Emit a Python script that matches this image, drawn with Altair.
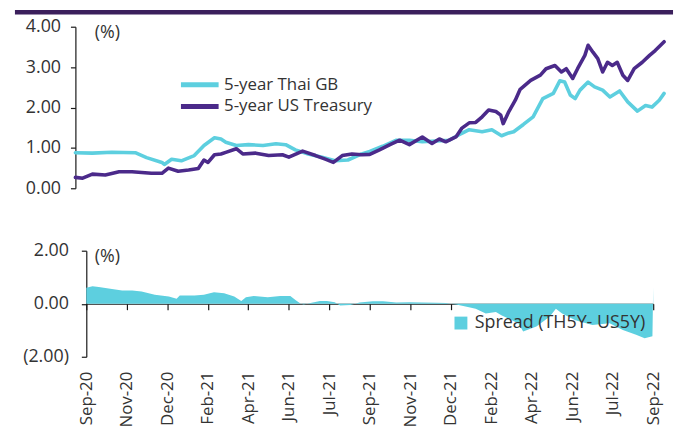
import altair as alt
import pandas as pd

CYAN = "#5DCFDF"
PURPLE = "#4B2A8A"
BAR = "#3B1F5C"
TEXT = "#333333"
AXIS = "#1a1a1a"
FONT = "Open Sans"

series_names = ["5-year Thai GB", "5-year US Treasury"]
spread_name = "Spread (TH5Y- US5Y)"

th_dates = ["2020-09-15", "2020-10-06", "2020-10-30", "2020-11-28", "2020-12-12", "2020-12-31",
            "2021-01-03", "2021-01-12", "2021-01-24", "2021-02-09", "2021-02-21", "2021-03-06",
            "2021-03-14", "2021-03-20", "2021-04-02", "2021-04-17", "2021-05-05", "2021-05-21",
            "2021-06-02", "2021-06-14", "2021-06-30", "2021-07-17", "2021-08-02", "2021-08-18",
            "2021-09-04", "2021-09-14", "2021-09-30", "2021-10-17", "2021-11-02", "2021-11-18",
            "2021-12-05", "2021-12-21", "2022-01-02", "2022-01-15", "2022-01-31", "2022-02-12",
            "2022-02-24", "2022-03-05", "2022-03-11", "2022-03-23", "2022-04-04", "2022-04-16",
            "2022-04-29", "2022-05-07", "2022-05-13", "2022-05-20", "2022-05-26", "2022-06-01",
            "2022-06-11", "2022-06-19", "2022-06-29", "2022-07-08", "2022-07-20", "2022-07-30",
            "2022-08-11", "2022-08-21", "2022-08-29", "2022-09-07", "2022-09-13"]
th_values = [0.88, 0.87, 0.89, 0.88, 0.76, 0.64,
             0.59, 0.72, 0.68, 0.81, 1.06, 1.25,
             1.22, 1.14, 1.06, 1.08, 1.06, 1.10,
             1.08, 0.95, 0.85, 0.77, 0.68, 0.70,
             0.85, 0.91, 1.04, 1.19, 1.19, 1.15,
             1.17, 1.19, 1.32, 1.45, 1.40, 1.45,
             1.30, 1.37, 1.40, 1.58, 1.77, 2.22,
             2.35, 2.66, 2.63, 2.31, 2.22, 2.43,
             2.63, 2.51, 2.43, 2.26, 2.41, 2.14,
             1.91, 2.05, 2.01, 2.18, 2.35]

us_dates = ["2020-09-15", "2020-09-24", "2020-10-06", "2020-10-22", "2020-11-08", "2020-11-24",
            "2020-12-06", "2020-12-18", "2020-12-31", "2021-01-08", "2021-01-20", "2021-02-02",
            "2021-02-14", "2021-02-21", "2021-02-26", "2021-03-06", "2021-03-14", "2021-03-20",
            "2021-04-02", "2021-04-10", "2021-04-26", "2021-05-12", "2021-05-29", "2021-06-06",
            "2021-06-23", "2021-07-09", "2021-07-21", "2021-07-31", "2021-08-11", "2021-08-23",
            "2021-09-04", "2021-09-14", "2021-09-26", "2021-10-09", "2021-10-21", "2021-11-02",
            "2021-11-18", "2021-11-30", "2021-12-09", "2021-12-17", "2021-12-30", "2022-01-06",
            "2022-01-15", "2022-01-23", "2022-01-31", "2022-02-08", "2022-02-17", "2022-02-23",
            "2022-02-26", "2022-03-05", "2022-03-13", "2022-03-19", "2022-04-01", "2022-04-13",
            "2022-04-20", "2022-05-01", "2022-05-09", "2022-05-15", "2022-05-23", "2022-05-29",
            "2022-06-07", "2022-06-11", "2022-06-17", "2022-06-23", "2022-06-29", "2022-07-05",
            "2022-07-11", "2022-07-17", "2022-07-24", "2022-07-30", "2022-08-07", "2022-08-17",
            "2022-08-26", "2022-09-02", "2022-09-08", "2022-09-13"]
us_values = [0.27, 0.25, 0.35, 0.33, 0.41, 0.41,
             0.39, 0.37, 0.37, 0.50, 0.42, 0.45,
             0.49, 0.70, 0.64, 0.83, 0.85, 0.89,
             0.98, 0.85, 0.87, 0.81, 0.83, 0.77,
             0.92, 0.81, 0.72, 0.64, 0.81, 0.85,
             0.83, 0.84, 0.95, 1.08, 1.19, 1.08,
             1.27, 1.11, 1.22, 1.15, 1.28, 1.49,
             1.62, 1.63, 1.77, 1.94, 1.90, 1.81,
             1.60, 1.90, 2.18, 2.45, 2.67, 2.80,
             2.96, 3.04, 2.88, 2.96, 2.72, 2.96,
             3.29, 3.54, 3.37, 3.21, 2.88, 3.12,
             3.04, 3.12, 2.80, 2.67, 2.96, 3.12,
             3.29, 3.41, 3.53, 3.63]

spread_dates = ["2020-09-15", "2020-09-23", "2020-10-01", "2020-10-18", "2020-10-31", "2020-11-13",
                "2020-11-25", "2020-12-12", "2020-12-30", "2021-01-09", "2021-01-13", "2021-02-01",
                "2021-02-13", "2021-02-26", "2021-03-11", "2021-03-24", "2021-04-02", "2021-04-08",
                "2021-04-18", "2021-05-06", "2021-05-22", "2021-06-04", "2021-06-11", "2021-06-17",
                "2021-06-21", "2021-07-03", "2021-07-12", "2021-07-21", "2021-07-31", "2021-08-07",
                "2021-08-20", "2021-09-01", "2021-09-18", "2021-10-01", "2021-10-18", "2021-11-04",
                "2021-11-20", "2021-12-08", "2021-12-21", "2022-01-03", "2022-01-15", "2022-01-28",
                "2022-02-10", "2022-02-23", "2022-03-02", "2022-03-11", "2022-03-24", "2022-03-30",
                "2022-04-16", "2022-05-03", "2022-05-11", "2022-05-19", "2022-06-05", "2022-06-27",
                "2022-07-19", "2022-08-05", "2022-08-22", "2022-09-02", "2022-09-12", "2022-09-13"]
spread_values = [0.60, 0.66, 0.63, 0.56, 0.50, 0.50,
                 0.46, 0.34, 0.27, 0.19, 0.31, 0.31,
                 0.34, 0.43, 0.40, 0.27, 0.10, 0.24,
                 0.29, 0.24, 0.29, 0.29, 0.13, 0.01,
                 -0.03, 0.05, 0.10, 0.10, 0.06, -0.07,
                 -0.05, 0.05, 0.09, 0.09, 0.05, 0.06,
                 0.05, 0.04, 0.03, -0.03, -0.10, -0.19,
                 -0.37, -0.31, -0.43, -0.56, -0.75, -1.05,
                 -0.86, -0.49, -0.19, -0.37, -0.62, -0.80,
                 -0.74, -0.99, -1.17, -1.30, -1.23, 0.62]

tick_dates = ["2020-09-15", "2020-11-06", "2020-12-28", "2021-02-18", "2021-04-11",
              "2021-06-02", "2021-07-24", "2021-09-14", "2021-11-05", "2021-12-27",
              "2022-02-17", "2022-04-10", "2022-06-01", "2022-07-23", "2022-09-13"]
domain_dates = ["2020-09-15", "2022-09-13"]
top_ticks = [0, 1, 2, 3, 4]
bottom_ticks = [-2, 0, 2]


def to_dt(s):
    return alt.DateTime(year=int(s[:4]), month=int(s[5:7]), date=int(s[8:10]), utc=True)


tick_dt = [to_dt(s) for s in tick_dates]
dom_dt = [to_dt(s) for s in domain_dates]

df_th = pd.DataFrame({"date": th_dates, "value": th_values, "series": series_names[0]})
df_us = pd.DataFrame({"date": us_dates, "value": us_values, "series": series_names[1]})
df_sp = pd.DataFrame({"date": spread_dates, "value": spread_values, "series": spread_name})

W_TOP = 583
H_TOP = 163
W_BOT = 572
H_BOT = 107
SHIFT = 11

top_legend = alt.Legend(orient="none", legendX=93, legendY=50, title=None,
                        symbolType="stroke", symbolSize=1444, symbolStrokeWidth=5,
                        clipHeight=17, labelFontSize=17, labelOffset=3, rowPadding=4,
                        labelLimit=300, labelFont=FONT, labelColor=TEXT)
color_top = alt.Color("series:N",
                      scale=alt.Scale(domain=series_names, range=[CYAN, PURPLE]),
                      legend=top_legend)

x_top = alt.X("date:T", scale=alt.Scale(domain=dom_dt, range=[-SHIFT, W_TOP]), axis=None)
y_top = alt.Y("value:Q", scale=alt.Scale(domain=[0, 4], nice=False, zero=False),
              axis=alt.Axis(values=top_ticks, format=".2f", offset=SHIFT, tickSize=5,
                            labelPadding=10, grid=False, title="(%)", titleAngle=0,
                            titleX=19, titleY=6, titleAlign="left", titleBaseline="middle"))

top_bar = alt.Chart(pd.DataFrame({"k": [0]})).mark_rule(color=BAR, strokeWidth=4.5).encode(
    x=alt.value(-72), x2=alt.value(592), y=alt.value(-14.5))

th_line = alt.Chart(df_th).mark_line(strokeWidth=3.6, strokeCap="round", strokeJoin="round").encode(
    x=x_top, y=y_top, color=color_top)
us_line = alt.Chart(df_us).mark_line(strokeWidth=3.6, strokeCap="round", strokeJoin="round").encode(
    x=x_top, y=y_top, color=color_top)

top = alt.layer(top_bar, th_line, us_line).properties(width=W_TOP, height=H_TOP)

x_bot = alt.X("date:T", scale=alt.Scale(domain=dom_dt),
              axis=alt.Axis(values=tick_dt, labelExpr="utcFormat(datum.value, '%b-%y')",
                            labelAngle=-90, offset=-H_BOT / 2, tickSize=6, labelPadding=62,
                            grid=False, title=None, labelFontSize=17))
y_bot = alt.Y("value:Q", scale=alt.Scale(domain=[-2, 2], nice=False),
              axis=alt.Axis(values=bottom_ticks,
                            labelExpr="datum.value < 0 ? '(' + format(-datum.value, '.2f') + ')' : format(datum.value, '.2f')",
                            tickSize=5, labelPadding=13, grid=False, title="(%)", titleAngle=0,
                            titleX=8, titleY=6, titleAlign="left", titleBaseline="middle"))
bot_legend = alt.Legend(orient="none", legendX=369, legendY=64, title=None,
                        symbolType="square", symbolSize=169, labelFontSize=18, labelOffset=5,
                        labelLimit=300, labelFont=FONT, labelColor=TEXT, symbolStrokeWidth=0)
area = alt.Chart(df_sp).mark_area(interpolate="linear").encode(
    x=x_bot, y=y_bot,
    color=alt.Color("series:N", scale=alt.Scale(domain=[spread_name], range=[CYAN]), legend=bot_legend))
bottom = area.properties(width=W_BOT, height=H_BOT)

chart = alt.vconcat(top, bottom, spacing=63, bounds="flush").resolve_scale(
    x="independent", color="independent").resolve_legend(color="independent").properties(
    padding={"left": 4, "top": 0, "right": 0, "bottom": 0}
).configure_view(stroke=None).configure_axis(
    labelFont=FONT, labelFontSize=18, labelColor=TEXT,
    titleFont=FONT, titleFontSize=18, titleFontWeight="normal", titleColor=TEXT,
    domainColor=AXIS, tickColor=AXIS, domainWidth=1.2, tickWidth=1.2
).configure_legend(labelFont=FONT, labelColor=TEXT)

chart.save("out.html", embed_options={"renderer": "svg", "actions": False})
